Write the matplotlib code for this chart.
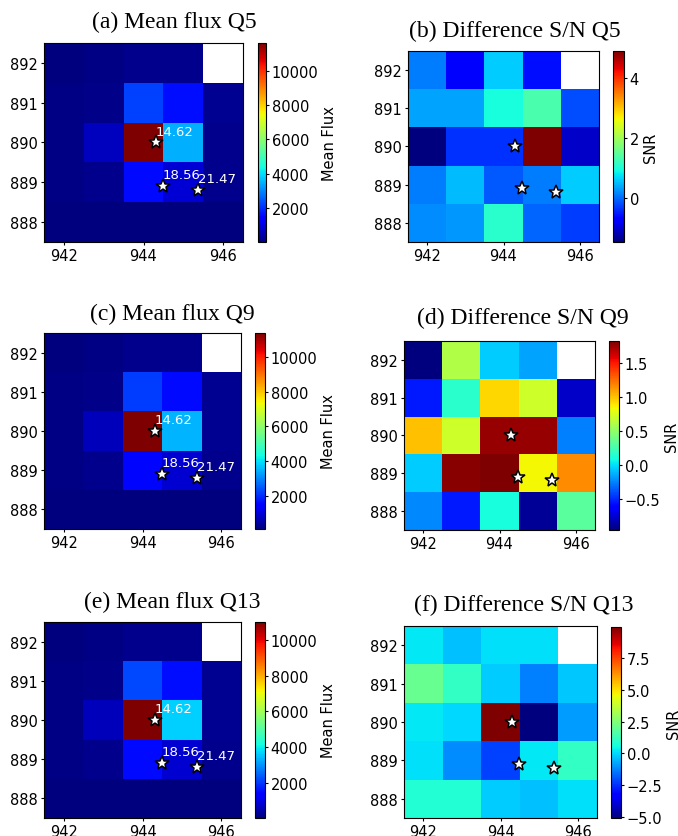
import matplotlib as mpl
mpl.use('Agg')
from matplotlib import pyplot as plt
import numpy as np

nan = np.nan

# pixel grid, rows are y = 888 .. 892, columns x = 942 .. 946
col_x = [942, 943, 944, 945, 946]
row_y = [888, 889, 890, 891, 892]

flux_q5 = [[40, 60, 70, 80, 70],
           [90, 180, 1600, 930, 200],
           [110, 680, 11600, 3500, 220],
           [100, 150, 2250, 1650, 230],
           [80, 110, 200, 220, nan]]

snr_q5 = [[0.20, 0.28, 1.08, -0.04, -0.28],
          [0.12, 0.52, -0.12, 0.12, 0.60],
          [-1.47, -0.36, -0.36, 4.90, -1.05],
          [0.36, 0.36, 0.95, 1.33, -0.20],
          [0.12, -0.71, 0.60, -0.59, nan]]

flux_q9 = [[65, 80, 90, 100, 90],
           [110, 200, 1550, 900, 230],
           [130, 650, 11400, 3500, 250],
           [120, 170, 2150, 1600, 250],
           [90, 120, 230, 240, nan]]

snr_q9 = [[-0.23, -0.54, 0.10, -0.90, 0.32],
          [-0.05, 1.80, 1.83, 0.84, 1.16],
          [1.01, 0.71, 1.77, 1.77, -0.26],
          [-0.54, 0.16, 0.94, 0.71, -0.78],
          [-0.96, 0.62, -0.05, -0.16, nan]]

flux_q13 = [[40, 60, 70, 80, 70],
            [90, 170, 1500, 850, 200],
            [110, 600, 10990, 3650, 220],
            [100, 150, 2200, 1550, 230],
            [80, 100, 200, 210, nan]]

snr_q13 = [[0.81, 0.81, -0.16, -0.34, 0.14],
           [0.14, -1.09, -2.21, 0.22, 1.11],
           [0.22, 0.03, 9.90, -5.05, -0.90],
           [2.06, 1.11, -0.16, -1.28, -0.23],
           [0.22, -0.34, 0.14, 0.14, nan]]

# stars and their magnitudes
star_x = [944.31, 944.49, 945.38]
star_y = [890.0, 888.91, 888.81]
star_mag = ['14.62', '18.56', '21.47']

flux_ticks = [2000, 4000, 6000, 8000, 10000]
snr_ticks_q5 = [0, 2, 4]
snr_ticks_q9 = [-0.5, 0.0, 0.5, 1.0, 1.5]
snr_ticks_q13 = [-5.0, -2.5, 0.0, 2.5, 5.0, 7.5]

W, H = 678., 837.
fig = plt.figure(figsize=(W/100, H/100), dpi=100)


def box(x0, y0, x1, y1):
    # pixel box (top-left origin) -> figure fraction
    return [x0/W, 1 - y1/H, (x1 - x0)/W, (y1 - y0)/H]


def panel(axbox, cbbox, data, title, tx, ty, label, ticks, mags):
    ax = fig.add_axes(box(*axbox))
    extent = [col_x[0] - 0.5, col_x[-1] + 0.5, row_y[0] - 0.5, row_y[-1] + 0.5]
    im = ax.imshow(np.array(data, dtype=float), cmap='jet', origin='lower',
                   extent=extent, interpolation='nearest', aspect='auto')
    ax.plot(star_x, star_y, '*', color='white', markeredgecolor='k',
            markersize=10, markeredgewidth=1.1)
    if mags:
        for x, y, m in zip(star_x, star_y, star_mag):
            ax.text(x, y + 0.2, m, color='white', fontsize=9.5)
    ax.set_xticks([942, 944, 946])
    ax.set_yticks(row_y)
    ax.tick_params(labelsize=10.5, length=2.5, pad=2)
    cax = fig.add_axes(box(*cbbox))
    cb = plt.colorbar(im, cax=cax)
    cb.set_ticks(ticks)
    cb.ax.tick_params(labelsize=10.5, length=2, pad=2)
    cb.set_label(label, fontsize=10.5, labelpad=3)
    fig.text(tx/W, 1 - ty/H, title, ha='center', va='center',
             fontsize=17, family='Liberation Serif')


panel((44, 44, 243, 243), (258, 44, 266, 243), flux_q5,
      '(a) Mean flux Q5', 174, 22, 'Mean Flux', flux_ticks, True)
panel((408, 52, 599, 243), (613, 52, 624, 243), snr_q5,
      '(b) Difference S/N Q5', 515, 31, 'SNR', snr_ticks_q5, False)
panel((44, 334, 241, 530), (255, 334, 265, 530), flux_q9,
      '(c) Mean flux Q9', 172, 314, 'Mean Flux', flux_ticks, True)
panel((404, 342, 595, 531), (609, 342, 619, 531), snr_q9,
      '(d) Difference S/N Q9', 523, 318, 'SNR', snr_ticks_q9, False)
panel((44, 623, 241, 819), (255, 623, 265, 819), flux_q13,
      '(e) Mean flux Q13', 172, 602, 'Mean Flux', flux_ticks, True)
panel((404, 627, 597, 819), (611, 628, 621, 819), snr_q13,
      '(f) Difference S/N Q13', 524, 605, 'SNR', snr_ticks_q13, False)

plt.savefig('out.png', dpi=100)
plt.close()
